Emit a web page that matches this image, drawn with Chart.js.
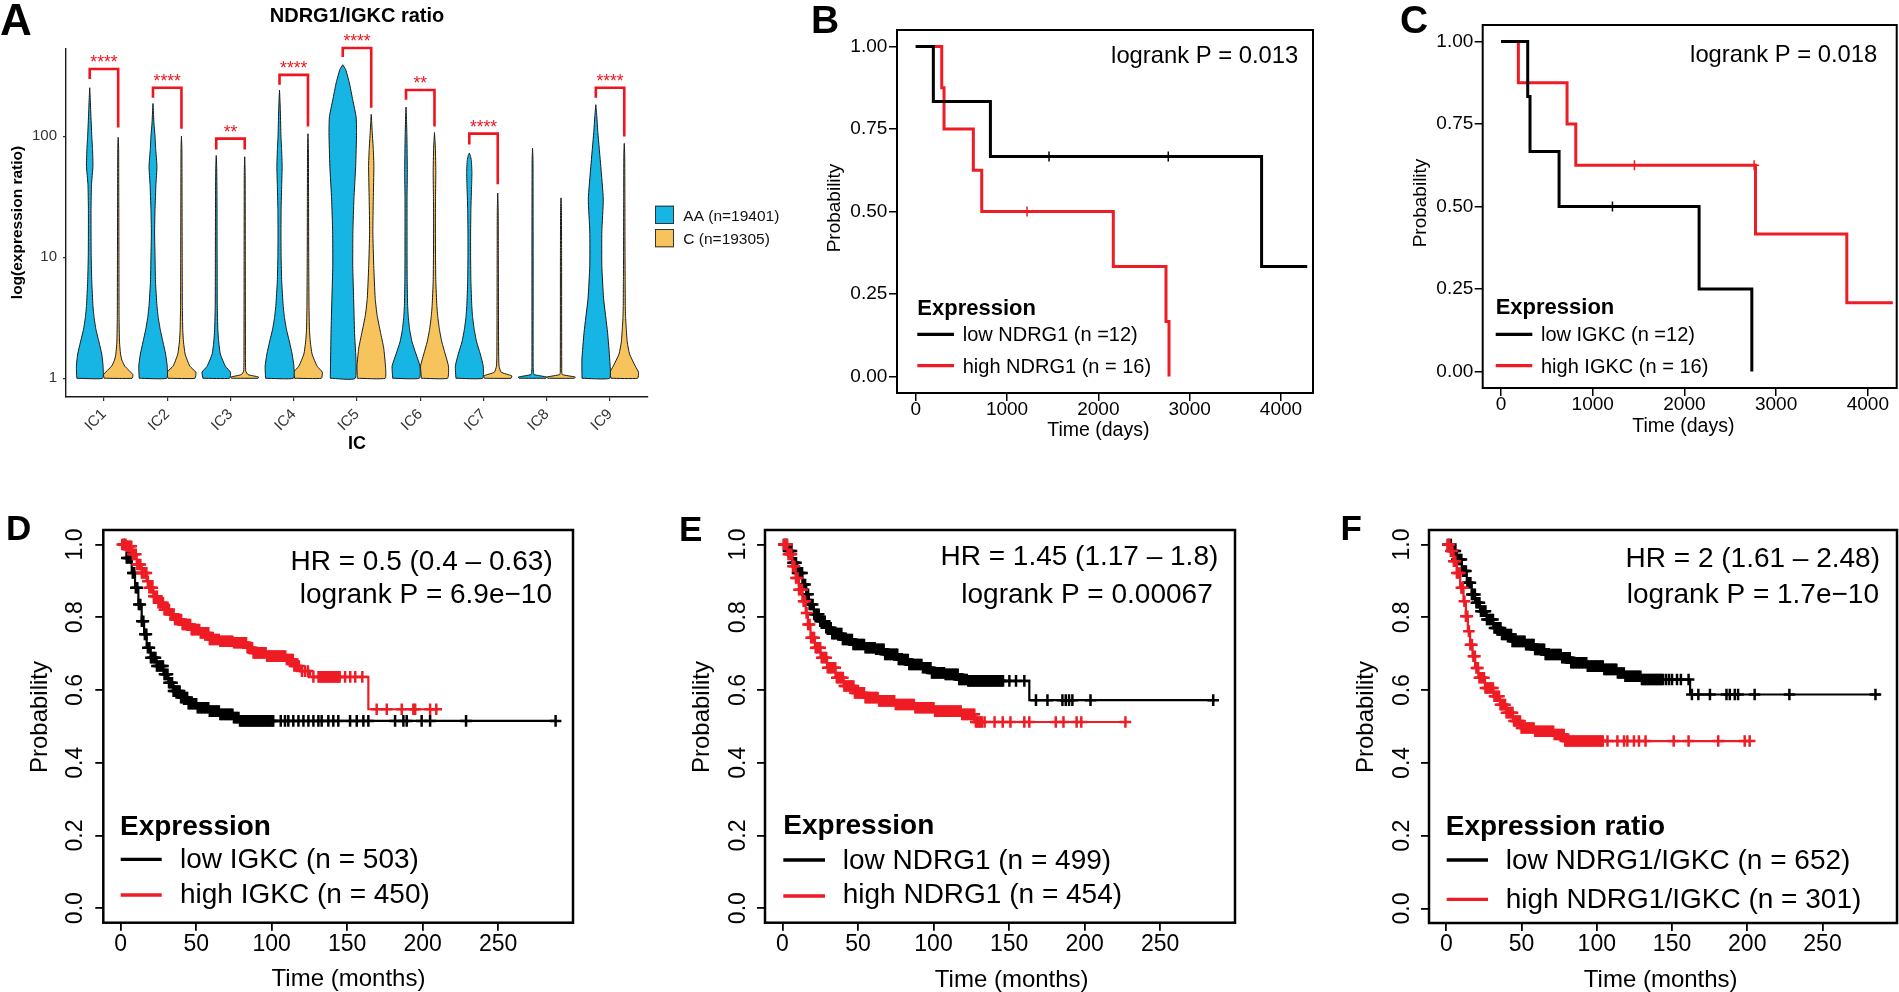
<!DOCTYPE html>
<html>
<head>
<meta charset="utf-8">
<script src="https://cdn.jsdelivr.net/npm/chart.js@4.4.1/dist/chart.umd.min.js"></script>
<style>
html,body{margin:0;padding:0;background:#fff;}
body{width:1899px;height:992px;position:relative;overflow:hidden;}
canvas{position:absolute;}
</style>
</head>
<body>
<canvas id="cA" width="800" height="460" style="left:0px;top:0px"></canvas>
<canvas id="cB" width="520" height="450" style="left:810px;top:0px"></canvas>
<canvas id="cC" width="499" height="450" style="left:1400px;top:0px"></canvas>
<canvas id="cD" width="600" height="492" style="left:0px;top:500px"></canvas>
<canvas id="cE" width="600" height="492" style="left:650px;top:500px"></canvas>
<canvas id="cF" width="599" height="492" style="left:1300px;top:500px"></canvas>
<script>
// ================= DATA =================
// ---- Panel A: violin plot ----
const icCategories = ['IC1','IC2','IC3','IC4','IC5','IC6','IC7','IC8','IC9'];
const groupLabels = ['AA (n=19401)', 'C (n=19305)'];
const yTicksA = [1, 10, 100];
// violin outlines: [log10(expression ratio), relative width]
const violinAA = [
  [[0,.88],[0.1,.91],[0.2,.82],[0.3,.63],[0.4,.43],[0.5,.30],[0.6,.22],[0.8,.14],[1.0,.10],[1.2,.09],[1.4,.09],[1.6,.12],[1.75,.22],[1.9,.19],[2.0,.14],[2.2,.07],[2.3,.04],[2.40,0]],
  [[0,.94],[0.1,.97],[0.2,.86],[0.3,.68],[0.4,.5],[0.5,.36],[0.6,.27],[0.8,.17],[1.0,.14],[1.2,.11],[1.4,.14],[1.6,.2],[1.75,.27],[1.9,.18],[2.0,.14],[2.1,.07],[2.2,.03],[2.27,0]],
  [[0,.91],[0.05,.97],[0.1,.62],[0.2,.28],[0.3,.17],[0.4,.11],[0.6,.07],[1.0,.06],[1.5,.05],[1.75,.03],[1.84,0]],
  [[0,.95],[0.1,.98],[0.2,.86],[0.3,.68],[0.4,.48],[0.5,.34],[0.6,.25],[0.8,.15],[1.0,.11],[1.2,.10],[1.4,.11],[1.6,.15],[1.75,.18],[1.9,.14],[2.0,.10],[2.2,.06],[2.3,.03],[2.38,0]],
  [[0,.85],[0.38,.80],[0.66,.74],[0.93,.68],[1.21,.69],[1.48,.76],[1.75,.88],[2.03,.94],[2.16,.91],[2.30,.68],[2.44,.45],[2.55,.2],[2.59,0]],
  [[0,.91],[0.1,.95],[0.2,.68],[0.3,.41],[0.4,.25],[0.5,.16],[0.6,.11],[0.8,.08],[1.0,.07],[1.5,.07],[1.7,.09],[2.0,.06],[2.15,.03],[2.24,0]],
  [[0,.91],[0.1,.95],[0.2,.75],[0.3,.5],[0.4,.34],[0.5,.23],[0.6,.17],[0.8,.11],[1.0,.09],[1.2,.09],[1.4,.11],[1.6,.16],[1.7,.18],[1.8,.14],[1.84,.07],[1.86,0]],
  [[0,.91],[0.01,.97],[0.03,.11],[0.05,.06],[0.1,.04],[1.0,.04],[1.8,.03],[1.90,0]],
  [[0,.94],[0.15,.95],[0.38,.8],[0.66,.53],[0.93,.41],[1.21,.41],[1.48,.51],[1.75,.34],[2.03,.14],[2.16,.07],[2.26,0]]
];
const violinC = [
  [[0,.95],[0.03,1.0],[0.1,.45],[0.15,.25],[0.2,.16],[0.3,.09],[0.5,.06],[1.0,.05],[1.5,.04],[1.9,.03],[1.99,0]],
  [[0,.92],[0.05,.98],[0.1,.57],[0.2,.25],[0.3,.14],[0.4,.09],[0.6,.06],[1.0,.05],[1.5,.04],[1.9,.03],[2.0,0]],
  [[0,.91],[0.01,.95],[0.03,.23],[0.06,.07],[0.2,.05],[1.0,.04],[1.7,.03],[1.83,0]],
  [[0,.91],[0.05,.98],[0.1,.62],[0.2,.28],[0.3,.16],[0.4,.10],[0.6,.07],[1.0,.05],[1.5,.04],[1.9,.03],[2.02,0]],
  [[0,.95],[0.1,.97],[0.25,.85],[0.38,.63],[0.52,.40],[0.66,.27],[0.93,.17],[1.21,.11],[1.48,.14],[1.75,.18],[1.89,.14],[2.03,.07],[2.12,.03],[2.18,0]],
  [[0,.89],[0.1,.95],[0.2,.73],[0.3,.5],[0.4,.34],[0.5,.23],[0.6,.16],[0.8,.09],[1.0,.07],[1.3,.06],[1.5,.07],[1.7,.09],[1.9,.06],[2.03,0]],
  [[0,.91],[0.02,.95],[0.05,.23],[0.1,.09],[0.2,.06],[0.5,.05],[1.0,.04],[1.4,.03],[1.53,0]],
  [[0,.91],[0.01,.97],[0.03,.09],[0.05,.05],[1.0,.04],[1.4,.03],[1.49,0]],
  [[0,.91],[0.05,.97],[0.1,.75],[0.2,.36],[0.3,.2],[0.4,.14],[0.5,.09],[0.6,.07],[0.8,.06],[1.0,.05],[1.5,.04],[1.85,.03],[1.94,0]]
];
// significance brackets (expression-ratio values)
const sigStars  = ['****','****','**','****','****','**','****','','****'];
const sigTop    = [359, 251, 95.5, 321, 535, 241, 105, null, 251];
const sigLegAA  = [297, 208, 77.6, 266, 451, 200, 85.3, null, 208];
const sigLegC   = [118, 115, 77.6, 120, 172, 120, 40, null, 99.3];

// ---- Panels B, C: survival (days) ----
const dayTicks = [0, 1000, 2000, 3000, 4000];
const probTicks4 = [0, 0.25, 0.5, 0.75, 1];
const bLabels = ['low NDRG1 (n =12)', 'high NDRG1 (n = 16)'];
const bLow  = [[0,1],[193,0.833],[818,0.667],[3788,0.333],[4288,0.333]];
const bLowCens = [1460, 2766];
const bHigh = [[0,1],[285,0.875],[310,0.75],[631,0.625],[723,0.5],[2164,0.333],[2741,0.167],[2774,0]];
const bHighCens = [1219];
const cLabels = ['low IGKC (n =12)', 'high IGKC (n = 16)'];
const cLow  = [[0,1],[291,0.833],[316,0.667],[633,0.5],[2160,0.25],[2735,0]];
const cLowCens = [1215];
const cHigh = [[0,1],[189,0.875],[720,0.75],[815,0.625],[2775,0.417],[3771,0.208],[4273,0.208]];
const cHighCens = [1455, 2760];

// ---- Panels D, E, F: survival (months) ----
const monthTicks = [0, 50, 100, 150, 200, 250];
const probTicks5 = [0, 0.2, 0.4, 0.6, 0.8, 1.0];
const dLabels = ['low IGKC (n = 503)', 'high IGKC (n = 450)'];
const dLow = [[0,1],[4,0.963],[7.3,0.922],[9.5,0.881],[11.7,0.835],[13.9,0.789],[15.5,0.753],[17.2,0.716],[19.9,0.689],[23.8,0.666],[28.3,0.643],[31.6,0.62],[34.9,0.597],[39.3,0.579],[44.8,0.562],[50.3,0.551],[58.1,0.542],[65.8,0.533],[74.6,0.524],[79,0.515],[288,0.515]];
const dLowCens = [2,3,4,5,6,7,8,9,10,11,12,13,14,15,16,17,18,19,20,21,22,23,24,25,26,27,28,29,30,31,32,33,34,35,36,37,38,39,40,41,42,43,44,45,46,47,48,49,50,51,52,53,54,55,56,57,58,59,60,61,62,63,64,65,66,67,68,69,70,71,72,73,74,75,76,77,78,79,80,81,82,83,84,85,86,87,88,89,90,91,92,93,94,95,96,97,98,99,100,101,106,108.8,111,114.3,117.7,121,124.3,127.6,130.9,133.1,137.5,140.8,144.1,151.9,156.3,160.7,164,181.7,187.2,189.4,199.3,204.9,228.7,288];
const dHigh = [[0,1],[4,0.995],[7.3,0.973],[10.6,0.945],[13.9,0.922],[17.2,0.899],[18.3,0.881],[21.6,0.858],[24.9,0.84],[28.3,0.821],[32.7,0.808],[36,0.794],[40.4,0.78],[47,0.766],[52.5,0.757],[58.1,0.739],[65.8,0.734],[74.6,0.73],[83.4,0.716],[87.9,0.702],[96.7,0.693],[109.9,0.684],[114.3,0.666],[118.8,0.652],[125.4,0.636],[164,0.547],[209.3,0.547]];
const dHighCens = [1,2,3,4,5,6,7,8,9,10,11,12,13,14,15,16,17,18,19,20,21,22,23,24,25,26,27,28,29,30,31,32,33,34,35,36,37,38,39,40,41,42,43,44,45,46,47,48,49,50,51,52,53,54,55,56,57,58,59,60,61,62,63,64,65,66,67,68,69,70,71,72,73,74,75,76,77,78,79,80,81,82,83,84,85,86,87,88,89,90,91,92,93,94,95,96,97,98,99,100,101,102,103,104,105,106,107,108,109,110,111,112,113,114,115,116,117,118,120,122,124,127.6,131,132,133,134,135,136,137,138,139,140,141,142,143,144,145,148.6,152,155.3,160,169.5,176.2,186.1,193.8,195,204.9,209];
const eLabels = ['low NDRG1 (n = 499)', 'high NDRG1 (n = 454)'];
const eLow = [[0,1],[3.3,0.982],[6.6,0.95],[9.9,0.922],[13.2,0.89],[15.8,0.863],[17.5,0.835],[20.8,0.808],[24.1,0.789],[28.5,0.771],[32.9,0.755],[39.5,0.739],[46.1,0.725],[54.8,0.716],[61.4,0.712],[68,0.698],[76.8,0.684],[83.3,0.67],[92.1,0.661],[98.7,0.647],[107.5,0.643],[116.2,0.629],[122.8,0.625],[163.4,0.572],[286.2,0.572]];
const eLowCens = [1,2,3,4,5,6,7,8,9,10,11,12,13,14,15,16,17,18,19,20,21,22,23,24,25,26,27,28,29,30,31,32,33,34,35,36,37,38,39,40,41,42,43,44,45,46,47,48,49,50,51,52,53,54,55,56,57,58,59,60,61,62,63,64,65,66,67,68,69,70,71,72,73,74,75,76,77,78,79,80,81,82,83,84,85,86,87,88,89,90,91,92,93,94,95,96,97,98,99,100,101,102,103,104,105,106,107,108,109,110,111,112,113,114,115,116,117,118,119,120,121,122,123,124,125,126,127,128,129,130,131,132,133,134,135,136,137,138,139,140,141,142,143,144,145,146,150.2,154.6,160.1,167.8,175.4,185.3,187.5,189.7,191.9,203.9,285.1];
const eHigh = [[0,1],[3.3,0.973],[6.6,0.94],[8.8,0.908],[11,0.876],[13.2,0.844],[15.4,0.812],[16.9,0.78],[18.6,0.744],[21.5,0.716],[25.2,0.689],[29.6,0.661],[35.1,0.634],[40.6,0.611],[47.1,0.592],[54.8,0.579],[63.6,0.57],[74.6,0.56],[87.7,0.551],[100.9,0.542],[118.4,0.533],[127.2,0.512],[230.3,0.512]];
const eHighCens = [1,2,3,4,5,6,7,8,9,10,11,12,13,14,15,16,17,18,19,20,21,22,23,24,25,26,27,28,29,30,31,32,33,34,35,36,37,38,39,40,41,42,43,44,45,46,47,48,49,50,51,52,53,54,55,56,57,58,59,60,61,62,63,64,65,66,67,68,69,70,71,72,73,74,75,76,77,78,79,80,81,82,83,84,85,86,87,88,89,90,91,92,93,94,95,96,97,98,99,100,101,102,103,104,105,106,107,108,109,110,111,112,113,114,115,116,117,118,119,120,121,122,123,124,125,126,127,128,129,130,131,132,133.8,140.4,145.8,150.9,160.1,163.4,180.9,186,194.7,197.8,227];
const fLabels = ['low NDRG1/IGKC (n = 652)', 'high NDRG1/IGKC (n = 301)'];
const fLow = [[0,1],[3.7,0.982],[7,0.959],[10.3,0.927],[13.6,0.895],[16.9,0.863],[19.1,0.84],[22.4,0.817],[26.8,0.794],[31.2,0.771],[36.7,0.753],[43.3,0.734],[52.1,0.725],[58.7,0.712],[65.3,0.698],[76.3,0.689],[82.9,0.675],[93.9,0.666],[104.9,0.657],[113.7,0.647],[118.1,0.638],[129.1,0.629],[162,0.588],[288.5,0.588]];
const fLowCens = [1,2,3,4,5,6,7,8,9,10,11,12,13,14,15,16,17,18,19,20,21,22,23,24,25,26,27,28,29,30,31,32,33,34,35,36,37,38,39,40,41,42,43,44,45,46,47,48,49,50,51,52,53,54,55,56,57,58,59,60,61,62,63,64,65,66,67,68,69,70,71,72,73,74,75,76,77,78,79,80,81,82,83,84,85,86,87,88,89,90,91,92,93,94,95,96,97,98,99,100,101,102,103,104,105,106,107,108,109,110,111,112,113,114,115,116,117,118,119,120,121,122,123,124,125,126,127,128,129,130,131,132,133,134,135,136,137,138,139,140,141,142,143,144,146,148,150,153.3,155.9,161,163.2,167.5,175.2,186.2,188.4,191.7,193.9,204.9,228,285.2];
const fHigh = [[0,1],[2.6,0.982],[4.8,0.954],[7,0.922],[9.2,0.881],[11.4,0.844],[13,0.803],[14.3,0.762],[15.8,0.725],[17.4,0.693],[19.1,0.661],[21.3,0.634],[25.7,0.606],[31.2,0.583],[35.6,0.56],[40,0.538],[44.4,0.515],[49.9,0.496],[58.7,0.487],[71.9,0.478],[78.5,0.46],[201.6,0.46]];
const fHighCens = [1,2,3,4,5,6,7,8,9,10,11,12,13,14,15,16,17,18,19,20,21,22,23,24,25,26,27,28,29,30,31,32,33,34,35,36,37,38,39,40,41,42,43,44,45,46,47,48,49,50,51,52,53,54,55,56,57,58,59,60,61,62,63,64,65,66,67,68,69,70,71,72,73,74,75,76,77,78,79,80,81,82,83,84,85,86,87,88,89,90,91,92,93,94,95,96,97,98,99,100,101,102,103,104,107.1,113.7,118.1,120.3,124.7,128,132.4,151.1,161,180.7,198.3,201.6];

// ================= HELPERS =================
const FONT = '"Liberation Sans", Arial, Helvetica, sans-serif';
Chart.defaults.font.family = FONT;
const RED = '#ee1c24';
const BLUE = '#16b5e4';
const ORANGE = '#f7c35c';

function txt(ctx, s, x, cy, size, o) {
  o = o || {};
  ctx.save();
  ctx.font = (o.bold ? 'bold ' : '') + size + 'px ' + FONT;
  ctx.fillStyle = o.color || '#000';
  ctx.textAlign = o.align || 'left';
  ctx.textBaseline = 'alphabetic';
  ctx.translate(x, cy);
  if (o.rot) ctx.rotate(o.rot);
  ctx.fillText(s, 0, 0.358 * size);
  ctx.restore();
}
function stepLookup(curve, t) {
  let s = curve[0][1];
  for (const [ti, si] of curve) { if (ti <= t) s = si; else break; }
  return s;
}

// ================= PANEL A =================
(function () {
  const cv = document.getElementById('cA');
  const W = cv.width, H = cv.height;
  const area = {l: 66, t: 49, r: 648, b: 397};
  const DODGE = 0.225, HALFW = 0.232;
  function outline(center, prof) {
    const left = prof.map(([L, r]) => ({x: center - r * HALFW, y: Math.pow(10, L)}));
    const right = prof.slice().reverse().map(([L, r]) => ({x: center + r * HALFW, y: Math.pow(10, L)}));
    return left.concat(right, [left[0]]);
  }
  const datasets = [];
  icCategories.forEach((c, i) => {
    [violinAA[i], violinC[i]].forEach((prof, g) => {
      datasets.push({data: outline(i + 1 + (g ? DODGE : -DODGE), prof), borderColor: '#1a1a1a', borderWidth: 1,
        backgroundColor: g ? ORANGE : BLUE, fill: 'shape', pointRadius: 0, tension: 0.15, order: 2});
    });
    if (sigStars[i]) {
      datasets.push({data: [{x: i + 1 - DODGE, y: sigLegAA[i]}, {x: i + 1 - DODGE, y: sigTop[i]}, {x: i + 1 + DODGE, y: sigTop[i]}, {x: i + 1 + DODGE, y: sigLegC[i]}],
        borderColor: '#f0141e', borderWidth: 2.6, pointRadius: 0, fill: false, clip: false, order: 1, tension: 0,
        borderCapStyle: 'butt', borderJoinStyle: 'miter'});
    }
  });
  const deco = {
    id: 'decoA',
    afterDraw(chart) {
      const ctx = chart.ctx, xs = chart.scales.x, ys = chart.scales.y;
      icCategories.forEach((c, i) => {
        if (!sigStars[i]) return;
        txt(ctx, sigStars[i], xs.getPixelForValue(i + 1), ys.getPixelForValue(sigTop[i]) - 6.8, 17.5, {align: 'center', color: '#f0141e'});
      });
      txt(ctx, 'A', 0, 19.2, 44, {bold: true});
      txt(ctx, 'NDRG1/IGKC ratio', 357, 15, 20, {bold: true, align: 'center'});
      txt(ctx, 'log(expression ratio)', 16, 222.5, 15.5, {bold: true, align: 'center', rot: -Math.PI / 2});
      txt(ctx, 'IC', 357, 443, 18, {bold: true, align: 'center'});
      [BLUE, ORANGE].forEach((col, g) => {
        const y0 = g ? 229 : 205.7;
        ctx.save(); ctx.fillStyle = col; ctx.strokeStyle = '#333'; ctx.lineWidth = 1;
        ctx.fillRect(655, y0, 19, 18.3); ctx.strokeRect(655.5, y0 + 0.5, 18, 17.3); ctx.restore();
        txt(ctx, groupLabels[g], 683.3, g ? 238.3 : 215.8, 15.5, {color: '#111'});
      });
    }
  };
  new Chart(cv, {
    type: 'line',
    data: {datasets},
    options: {
      responsive: false, animation: false, devicePixelRatio: 1, events: [],
      layout: {padding: {left: 0, top: area.t, right: W - area.r, bottom: 0}, autoPadding: false},
      plugins: {legend: {display: false}, tooltip: {enabled: false}},
      scales: {
        x: {type: 'linear', min: 0.4, max: 9.6,
          afterBuildTicks: s => { s.ticks = icCategories.map((c, i) => ({value: i + 1})); },
          afterFit: s => { s.height = H - area.b; },
          ticks: {autoSkip: false, minRotation: 45, maxRotation: 45, color: '#333', font: {size: 15, lineHeight: 1.85}, padding: 1,
            callback: v => icCategories[Math.round(v) - 1]},
          grid: {display: true, drawOnChartArea: false, drawTicks: true, tickLength: 4, color: '#333', lineWidth: 1.2},
          border: {display: true, color: '#1a1a1a', width: 1.4}},
        y: {type: 'logarithmic', min: 0.725, max: 525,
          afterBuildTicks: s => { s.ticks = yTicksA.map(v => ({value: v})); },
          afterFit: s => { s.width = area.l; },
          ticks: {color: '#333', font: {size: 15}, padding: 6, callback: v => String(v)},
          grid: {display: true, drawOnChartArea: false, drawTicks: true, tickLength: 3, color: '#333', lineWidth: 1.2},
          border: {display: true, color: '#1a1a1a', width: 1.4}}
      }
    },
    plugins: [deco]
  });
})();

// ================= KM PANELS =================
function makeKM(P) {
  const cv = document.getElementById(P.canvas);
  const W = cv.width, H = cv.height, A = P.area;
  const datasets = [];
  P.series.forEach(S => {
    datasets.push({data: S.curve.map(([x, y]) => ({x, y})), borderColor: S.color, borderWidth: P.lw, stepped: 'before',
      pointRadius: 0, fill: false, order: S.order, borderJoinStyle: 'miter', borderCapStyle: 'butt'});
    datasets.push({data: S.cens.map(t => ({x: t, y: stepLookup(S.curve, t)})), showLine: false, pointStyle: 'cross',
      pointRadius: P.markR, pointBorderWidth: P.markW, pointBorderColor: S.color, pointBackgroundColor: S.color, order: S.order - 0.5});
  });
  const deco = {
    id: 'deco' + P.canvas,
    afterDraw(chart) {
      const ctx = chart.ctx, ca = chart.chartArea;
      ctx.save(); ctx.strokeStyle = '#000'; ctx.lineWidth = P.boxW;
      ctx.strokeRect(ca.left, ca.top, ca.right - ca.left, ca.bottom - ca.top); ctx.restore();
      if (P.rotYLabels) {
        P.yTicks.forEach(v => txt(ctx, v.toFixed(1), ca.left - P.yLabOff, chart.scales.y.getPixelForValue(v), P.tickSize, {align: 'center', rot: -Math.PI / 2}));
      }
      txt(ctx, P.letter.s, P.letter.x, P.letter.cy, P.letter.size, {bold: true});
      P.stats.forEach(s => txt(ctx, s.s, s.x, s.cy, P.statSize, {align: 'right'}));
      txt(ctx, P.legTitle.s, P.legTitle.x, P.legTitle.cy, P.legTitleSize, {bold: true});
      P.series.forEach((S, k) => {
        const L = P.legLines[k];
        ctx.save(); ctx.strokeStyle = S.color; ctx.lineWidth = P.legLW; ctx.beginPath();
        ctx.moveTo(L.x0, L.y); ctx.lineTo(L.x1, L.y); ctx.stroke(); ctx.restore();
        txt(ctx, S.label, P.legTextX, P.legTextCy[k], P.legSize);
      });
      txt(ctx, P.yTitle.s, P.yTitle.x, P.yTitle.cy, P.yTitleSize, {align: 'center', rot: -Math.PI / 2});
      txt(ctx, P.xTitle.s, P.xTitle.x, P.xTitle.cy, P.xTitleSize, {align: 'center'});
    }
  };
  new Chart(cv, {
    type: 'line',
    data: {datasets},
    options: {
      responsive: false, animation: false, devicePixelRatio: 1, events: [],
      layout: {padding: {left: 0, top: A.t, right: W - A.r, bottom: 0}, autoPadding: false},
      plugins: {legend: {display: false}, tooltip: {enabled: false}},
      scales: {
        x: {type: 'linear', min: P.xMin, max: P.xMax,
          afterBuildTicks: s => { s.ticks = P.xTicks.map(v => ({value: v})); },
          afterFit: s => { s.height = H - A.b; },
          ticks: {autoSkip: false, minRotation: 0, maxRotation: 0, color: '#000', font: {size: P.tickSize}, padding: P.xPad, callback: v => String(v)},
          grid: {display: true, drawOnChartArea: false, drawTicks: true, tickLength: P.tickLen, color: '#000', lineWidth: P.tickW},
          border: {display: false}},
        y: {type: 'linear', min: P.yMin, max: P.yMax,
          afterBuildTicks: s => { s.ticks = P.yTicks.map(v => ({value: v})); },
          afterFit: s => { s.width = A.l; },
          ticks: {display: !P.rotYLabels, autoSkip: false, color: '#000', font: {size: P.tickSize}, padding: P.yPad, callback: v => v.toFixed(2)},
          grid: {display: true, drawOnChartArea: false, drawTicks: true, tickLength: P.tickLen, color: '#000', lineWidth: P.tickW},
          border: {display: false}}
      }
    },
    plugins: [deco]
  });
}

const bcCommon = {xTicks: dayTicks, yMin: -0.05, yMax: 1.05, yTicks: probTicks4, tickSize: 19, tickLen: 8, tickW: 1.5,
  lw: 3, markR: 5, markW: 1.5, boxW: 2, statSize: 23.8, legTitleSize: 22, legLW: 3.3, legSize: 20, yTitleSize: 19, xTitleSize: 19.5};
makeKM(Object.assign({}, bcCommon, {
  canvas: 'cB', area: {l: 87, t: 30, r: 503, b: 393}, xMin: -205, xMax: 4351, xPad: -3, yPad: 1.7,
  series: [{label: bLabels[0], color: '#000', curve: bLow, cens: bLowCens, order: 1},
           {label: bLabels[1], color: RED, curve: bHigh, cens: bHighCens, order: 3}],
  letter: {s: 'B', x: 1, cy: 19.5, size: 39},
  stats: [{s: 'logrank P = 0.013', x: 488.3, cy: 54.2}],
  legTitle: {s: 'Expression', x: 107.3, cy: 306.7},
  legLines: [{x0: 107.3, x1: 144, y: 334.3}, {x0: 107.3, x1: 144, y: 365.7}], legTextX: 152.7, legTextCy: [334.2, 365.5],
  yTitle: {s: 'Probability', x: 23.6, cy: 208}, xTitle: {s: 'Time (days)', x: 288.3, cy: 428.8}
}));
makeKM(Object.assign({}, bcCommon, {
  canvas: 'cC', area: {l: 82.7, t: 25, r: 496.7, b: 388}, xMin: -200, xMax: 4315, xPad: -2.4, yPad: 1.4,
  series: [{label: cLabels[0], color: '#000', curve: cLow, cens: cLowCens, order: 1},
           {label: cLabels[1], color: RED, curve: cHigh, cens: cHighCens, order: 3}],
  letter: {s: 'C', x: 0, cy: 19.2, size: 39},
  stats: [{s: 'logrank P = 0.018', x: 477.3, cy: 53.3}],
  legTitle: {s: 'Expression', x: 95.7, cy: 306},
  legLines: [{x0: 95.7, x1: 132.3, y: 334.3}, {x0: 95.7, x1: 132.3, y: 365.7}], legTextX: 141, legTextCy: [334, 365.5],
  yTitle: {s: 'Probability', x: 18.9, cy: 203}, xTitle: {s: 'Time (days)', x: 283.3, cy: 425}
}));

const defCommon = {xTicks: monthTicks, xMin: -11.52, xMax: 299.52, yMin: -0.04, yMax: 1.04, yTicks: probTicks5, rotYLabels: true,
  tickSize: 23, tickLen: 8, tickW: 1.8, xPad: 0, yPad: 0, lw: 2.2, markR: 5.8, markW: 2.5, boxW: 2.5,
  statSize: 28, legTitleSize: 28, legLW: 3.3, legSize: 28, yTitleSize: 24, xTitleSize: 24};
makeKM(Object.assign({}, defCommon, {
  canvas: 'cD', area: {l: 103.3, t: 30, r: 573, b: 422.7}, yLabOff: 30,
  series: [{label: dLabels[0], color: '#000', curve: dLow, cens: dLowCens, order: 3},
           {label: dLabels[1], color: RED, curve: dHigh, cens: dHighCens, order: 1}],
  letter: {s: 'D', x: 6, cy: 27, size: 35},
  stats: [{s: 'HR = 0.5 (0.4 \u2013 0.63)', x: 552.7, cy: 60}, {s: 'logrank P = 6.9e\u221210', x: 552, cy: 92.5}],
  legTitle: {s: 'Expression', x: 120, cy: 325},
  legLines: [{x0: 120.7, x1: 161.7, y: 359.3}, {x0: 120.7, x1: 161.7, y: 395}], legTextX: 180, legTextCy: [357.5, 392.8],
  yTitle: {s: 'Probability', x: 38.5, cy: 217}, xTitle: {s: 'Time (months)', x: 348.5, cy: 477.5}
}));
makeKM(Object.assign({}, defCommon, {
  canvas: 'cE', area: {l: 115, t: 30, r: 585, b: 422.7}, yLabOff: 28,
  series: [{label: eLabels[0], color: '#000', curve: eLow, cens: eLowCens, order: 3},
           {label: eLabels[1], color: RED, curve: eHigh, cens: eHighCens, order: 1}],
  letter: {s: 'E', x: 29, cy: 28, size: 35},
  stats: [{s: 'HR = 1.45 (1.17 \u2013 1.8)', x: 568.3, cy: 55}, {s: 'logrank P = 0.00067', x: 562.7, cy: 92.5}],
  legTitle: {s: 'Expression', x: 133.3, cy: 324},
  legLines: [{x0: 133.3, x1: 175, y: 360}, {x0: 133.3, x1: 175, y: 396}], legTextX: 192.7, legTextCy: [358.5, 393],
  yTitle: {s: 'Probability', x: 50.2, cy: 217}, xTitle: {s: 'Time (months)', x: 361.7, cy: 478}
}));
makeKM(Object.assign({}, defCommon, {
  canvas: 'cF', area: {l: 129, t: 30, r: 597, b: 423}, yLabOff: 28.5,
  series: [{label: fLabels[0], color: '#000', curve: fLow, cens: fLowCens, order: 3},
           {label: fLabels[1], color: RED, curve: fHigh, cens: fHighCens, order: 1}],
  letter: {s: 'F', x: 40.4, cy: 27, size: 35},
  stats: [{s: 'HR = 2 (1.61 \u2013 2.48)', x: 580, cy: 56.7}, {s: 'logrank P = 1.7e\u221210', x: 579, cy: 92.5}],
  legTitle: {s: 'Expression ratio', x: 145.7, cy: 324.5},
  legLines: [{x0: 146.7, x1: 188, y: 360}, {x0: 146.7, x1: 188, y: 399.3}], legTextX: 205.7, legTextCy: [358.5, 397.8],
  yTitle: {s: 'Probability', x: 64.2, cy: 217}, xTitle: {s: 'Time (months)', x: 360.7, cy: 478}
}));
</script>
</body>
</html>
